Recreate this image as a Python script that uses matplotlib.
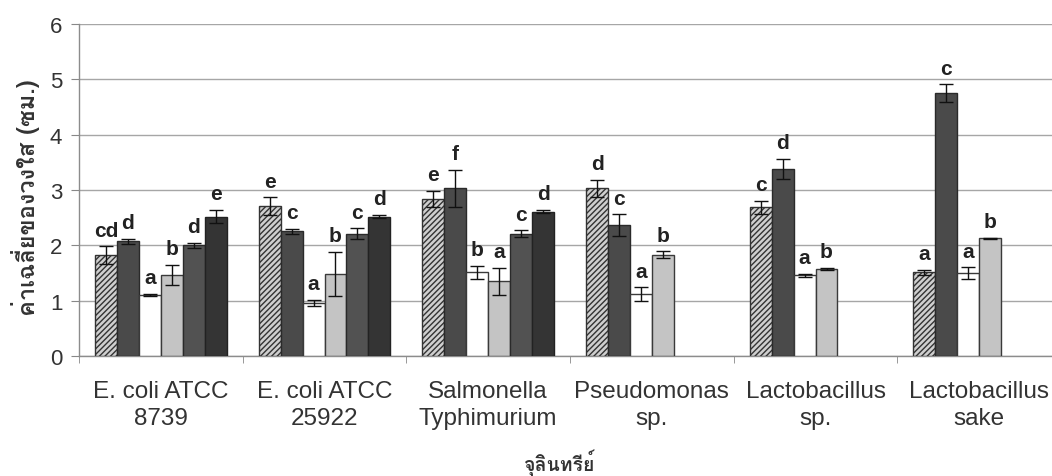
import numpy as np
import matplotlib
matplotlib.use("Agg")
import matplotlib.pyplot as plt
from matplotlib import font_manager
from matplotlib.ft2font import FT2Font

organisms = ["E. coli ATCC\n8739", "E. coli ATCC\n25922", "Salmonella\nTyphimurium",
             "Pseudomonas\nsp.", "Lactobacillus\nsp.", "Lactobacillus\nsake"]

# six treatments per organism; the last three organisms only have four
means = [
    [1.82, 2.07, 1.10, 1.47, 2.00, 2.52],
    [2.71, 2.25, 0.96, 1.48, 2.21, 2.52],
    [2.84, 3.03, 1.51, 1.35, 2.21, 2.61],
    [3.03, 2.36, 1.12, 1.83],
    [2.69, 3.38, 1.46, 1.57],
    [1.51, 4.75, 1.50, 2.13],
]
errors = [
    [0.16, 0.05, 0.02, 0.18, 0.04, 0.12],
    [0.16, 0.05, 0.06, 0.40, 0.10, 0.03],
    [0.14, 0.34, 0.12, 0.24, 0.06, 0.03],
    [0.15, 0.20, 0.12, 0.06],
    [0.12, 0.18, 0.03, 0.02],
    [0.05, 0.16, 0.10, 0.01],
]
letters = [
    ["cd", "d", "a", "b", "d", "e"],
    ["e", "c", "a", "b", "c", "d"],
    ["e", "f", "b", "a", "c", "d"],
    ["d", "c", "a", "b"],
    ["c", "d", "a", "b"],
    ["a", "c", "a", "b"],
]

ylabel = "ค่าเฉลี่ยของวงใส (ซม.)"
xlabel = "จุลินทรีย์"


def find_thai_family():
    for entry in font_manager.fontManager.ttflist:
        try:
            if 0x0E04 in FT2Font(entry.fname).get_charmap():
                return entry.name
        except Exception:
            continue
    return None


thai = find_thai_family()
thai_fam = ([thai] if thai else []) + ["Liberation Sans", "DejaVu Sans"]

plt.rcParams["font.family"] = ["Liberation Sans", "DejaVu Sans"]
plt.rcParams["hatch.linewidth"] = 1.0

fills = ["#cfcfcf", "#4a4a4a", "#ffffff", "#c4c4c4", "#525252", "#343434"]
hatches = ["//////", None, None, None, None, None]
edges = ["#333333", "#2a2a2a", "#3a3a3a", "#3a3a3a", "#2a2a2a", "#222222"]

fig = plt.figure(figsize=(10.52, 4.77), dpi=100)
ax = fig.add_axes([0.0751, 0.2516, 0.9335, 0.696])

width = 0.134
for g in range(len(organisms)):
    for i, (m, e, lab) in enumerate(zip(means[g], errors[g], letters[g])):
        x = g + (i - 2.5) * width
        ax.bar(x, m, width=width, color=fills[i], edgecolor=edges[i],
               hatch=hatches[i], linewidth=1.0, zorder=3)
        ax.errorbar(x, m, yerr=e, fmt="none", ecolor="#111111",
                    elinewidth=1.0, capsize=5, capthick=1.0, zorder=4)
        ax.text(x, m + e + 0.12, lab, ha="center", va="bottom",
                fontsize=15, fontweight="bold", color="#222222", zorder=5)

ax.set_xlim(-0.5, len(organisms) - 0.5)
ax.set_ylim(0, 6)
ax.set_yticks(range(7))
ax.yaxis.grid(True, color="#a6a6a6", linewidth=1.0, zorder=0)
ax.set_axisbelow(True)

ax.set_xticks(range(len(organisms)))
ax.set_xticklabels(organisms, fontsize=17.5, color="#333333", linespacing=1.3)
ax.tick_params(axis="x", length=0, pad=17)
ax.set_xticks(np.arange(-0.5, len(organisms)), minor=True)
ax.tick_params(axis="x", which="minor", length=5, color="#888888")
ax.tick_params(axis="y", length=6, color="#888888", labelsize=16,
               labelcolor="#333333", pad=6)

for side in ["top", "right"]:
    ax.spines[side].set_visible(False)
for side in ["left", "bottom"]:
    ax.spines[side].set_color("#8c8c8c")
    ax.spines[side].set_linewidth(1.0)

fig.text(0.024, 0.585, ylabel, rotation=90, ha="center", va="center",
         fontsize=17, fontweight="bold", color="#333333", family=thai_fam)
fig.text(0.532, 0.028, xlabel, ha="center", va="center",
         fontsize=14, fontweight="bold", color="#333333", family=thai_fam)

fig.savefig("out.png", dpi=100)
